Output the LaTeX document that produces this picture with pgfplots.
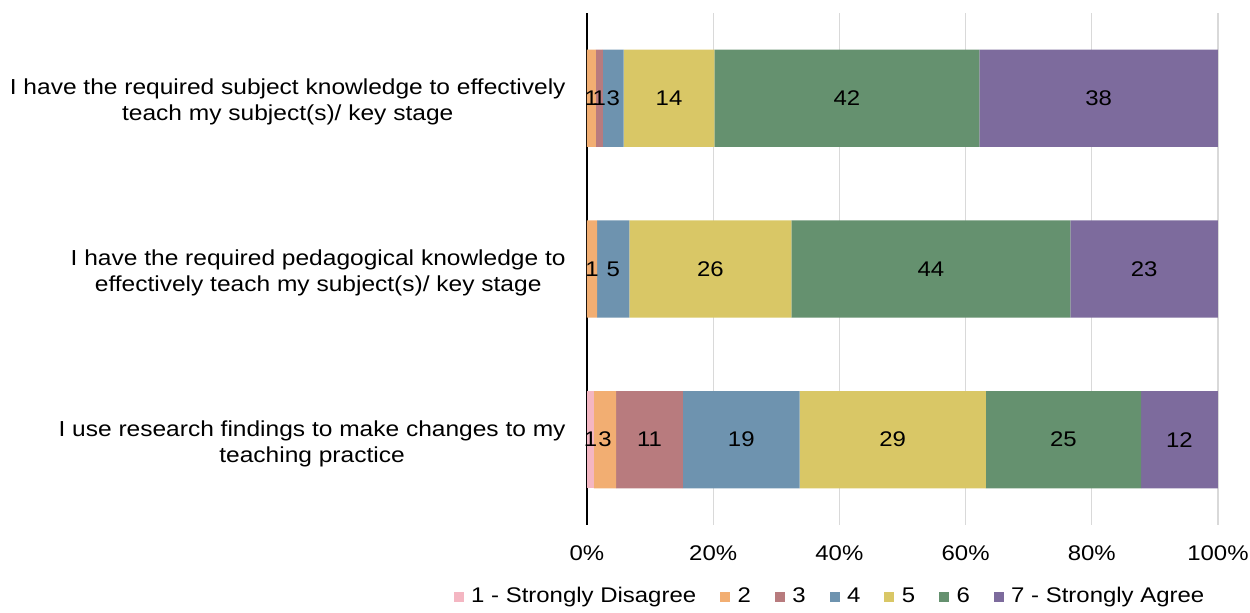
\documentclass[border=0pt]{standalone}
\usepackage{fontspec}
\setmainfont[FakeStretch=1.13]{Liberation Sans}
\usepackage{pgfplots}
\pgfplotsset{compat=1.18}

\definecolor{c1}{HTML}{F4B6C2}
\definecolor{c2}{HTML}{F2AE72}
\definecolor{c3}{HTML}{B87B7E}
\definecolor{c4}{HTML}{6E93AF}
\definecolor{c5}{HTML}{D9C766}
\definecolor{c6}{HTML}{65916F}
\definecolor{c7}{HTML}{7D6B9D}

\begin{document}
\begin{tikzpicture}[font=\fontsize{10.6}{13}\selectfont]
\begin{axis}[name=ax,
  scale only axis, width=315.5pt, height=256pt,
  xbar stacked, bar width=0.57,
  xmin=0, xmax=100, ymin=-0.5, ymax=2.5, y dir=reverse,
  xtick={0,20,...,100},
  xticklabel={\pgfmathprintnumber{\tick}\%},
  /pgf/number format/assume math mode=true,
  ytick={0,1,2},
  yticklabels={{I have the required subject knowledge to effectively\\teach my subject(s)/ key stage},
               {I have the required pedagogical knowledge to\\effectively teach my subject(s)/ key stage},
               {I use research findings to make changes to my\\teaching practice}},
  yticklabel style={align=center, anchor=east, inner sep=0pt, xshift=-10.5pt, yshift=-2pt,
    font=\fontsize{10.85}{13}\selectfont},
  xticklabel style={anchor=north, inner sep=0pt, yshift=-10pt},
  major tick length=0pt,
  axis x line*=bottom, axis y line*=left,
  x axis line style={draw=none},
  y axis line style={black, line width=0.8pt},
  xmajorgrids, major grid style={color=black!15, line width=0.6pt},
  point meta=explicit symbolic,
  nodes near coords,
  every node near coord/.append style={anchor=center, inner sep=0pt},
  legend columns=7,
  legend style={draw=none, at={(0.386,-0.14)}, anchor=center,
    /tikz/every even column/.append style={column sep=10.5pt},
    /tikz/every odd column/.append style={column sep=2.2pt},
    nodes={inner sep=1.5pt}},
  legend image code/.code={\fill[#1] (0pt,-2.5pt) rectangle (5pt,2.5pt);},
]
\addplot[fill=c1, draw=none] coordinates {(0,0) [] (0,1) [] (1.1,2) [1]};
\addplot[fill=c2, draw=none] coordinates {(1.4,0) [1] (1.6,1) [1] (3.5,2) [3]};
\addplot[fill=c3, draw=none] coordinates {(1.1,0) [1] (0,1) [] (10.6,2) [11]};
\addplot[fill=c4, draw=none] coordinates {(3.3,0) [3] (5.1,1) [5] (18.5,2) [19]};
\addplot[fill=c5, draw=none] coordinates {(14.4,0) [14] (25.7,1) [26] (29.5,2) [29]};
\addplot[fill=c6, draw=none] coordinates {(42.0,0) [42] (44.2,1) [44] (24.6,2) [25]};
\addplot[fill=c7, draw=none] coordinates {(37.8,0) [38] (23.4,1) [23] (12.2,2) [12]};
\legend{1 - Strongly Disagree, 2, 3, 4, 5, 6, 7 - Strongly Agree}
\end{axis}
\path (ax.south west) ++(-293.5pt,-41.5pt) rectangle ++(625pt,304pt);
\end{tikzpicture}
\end{document}
